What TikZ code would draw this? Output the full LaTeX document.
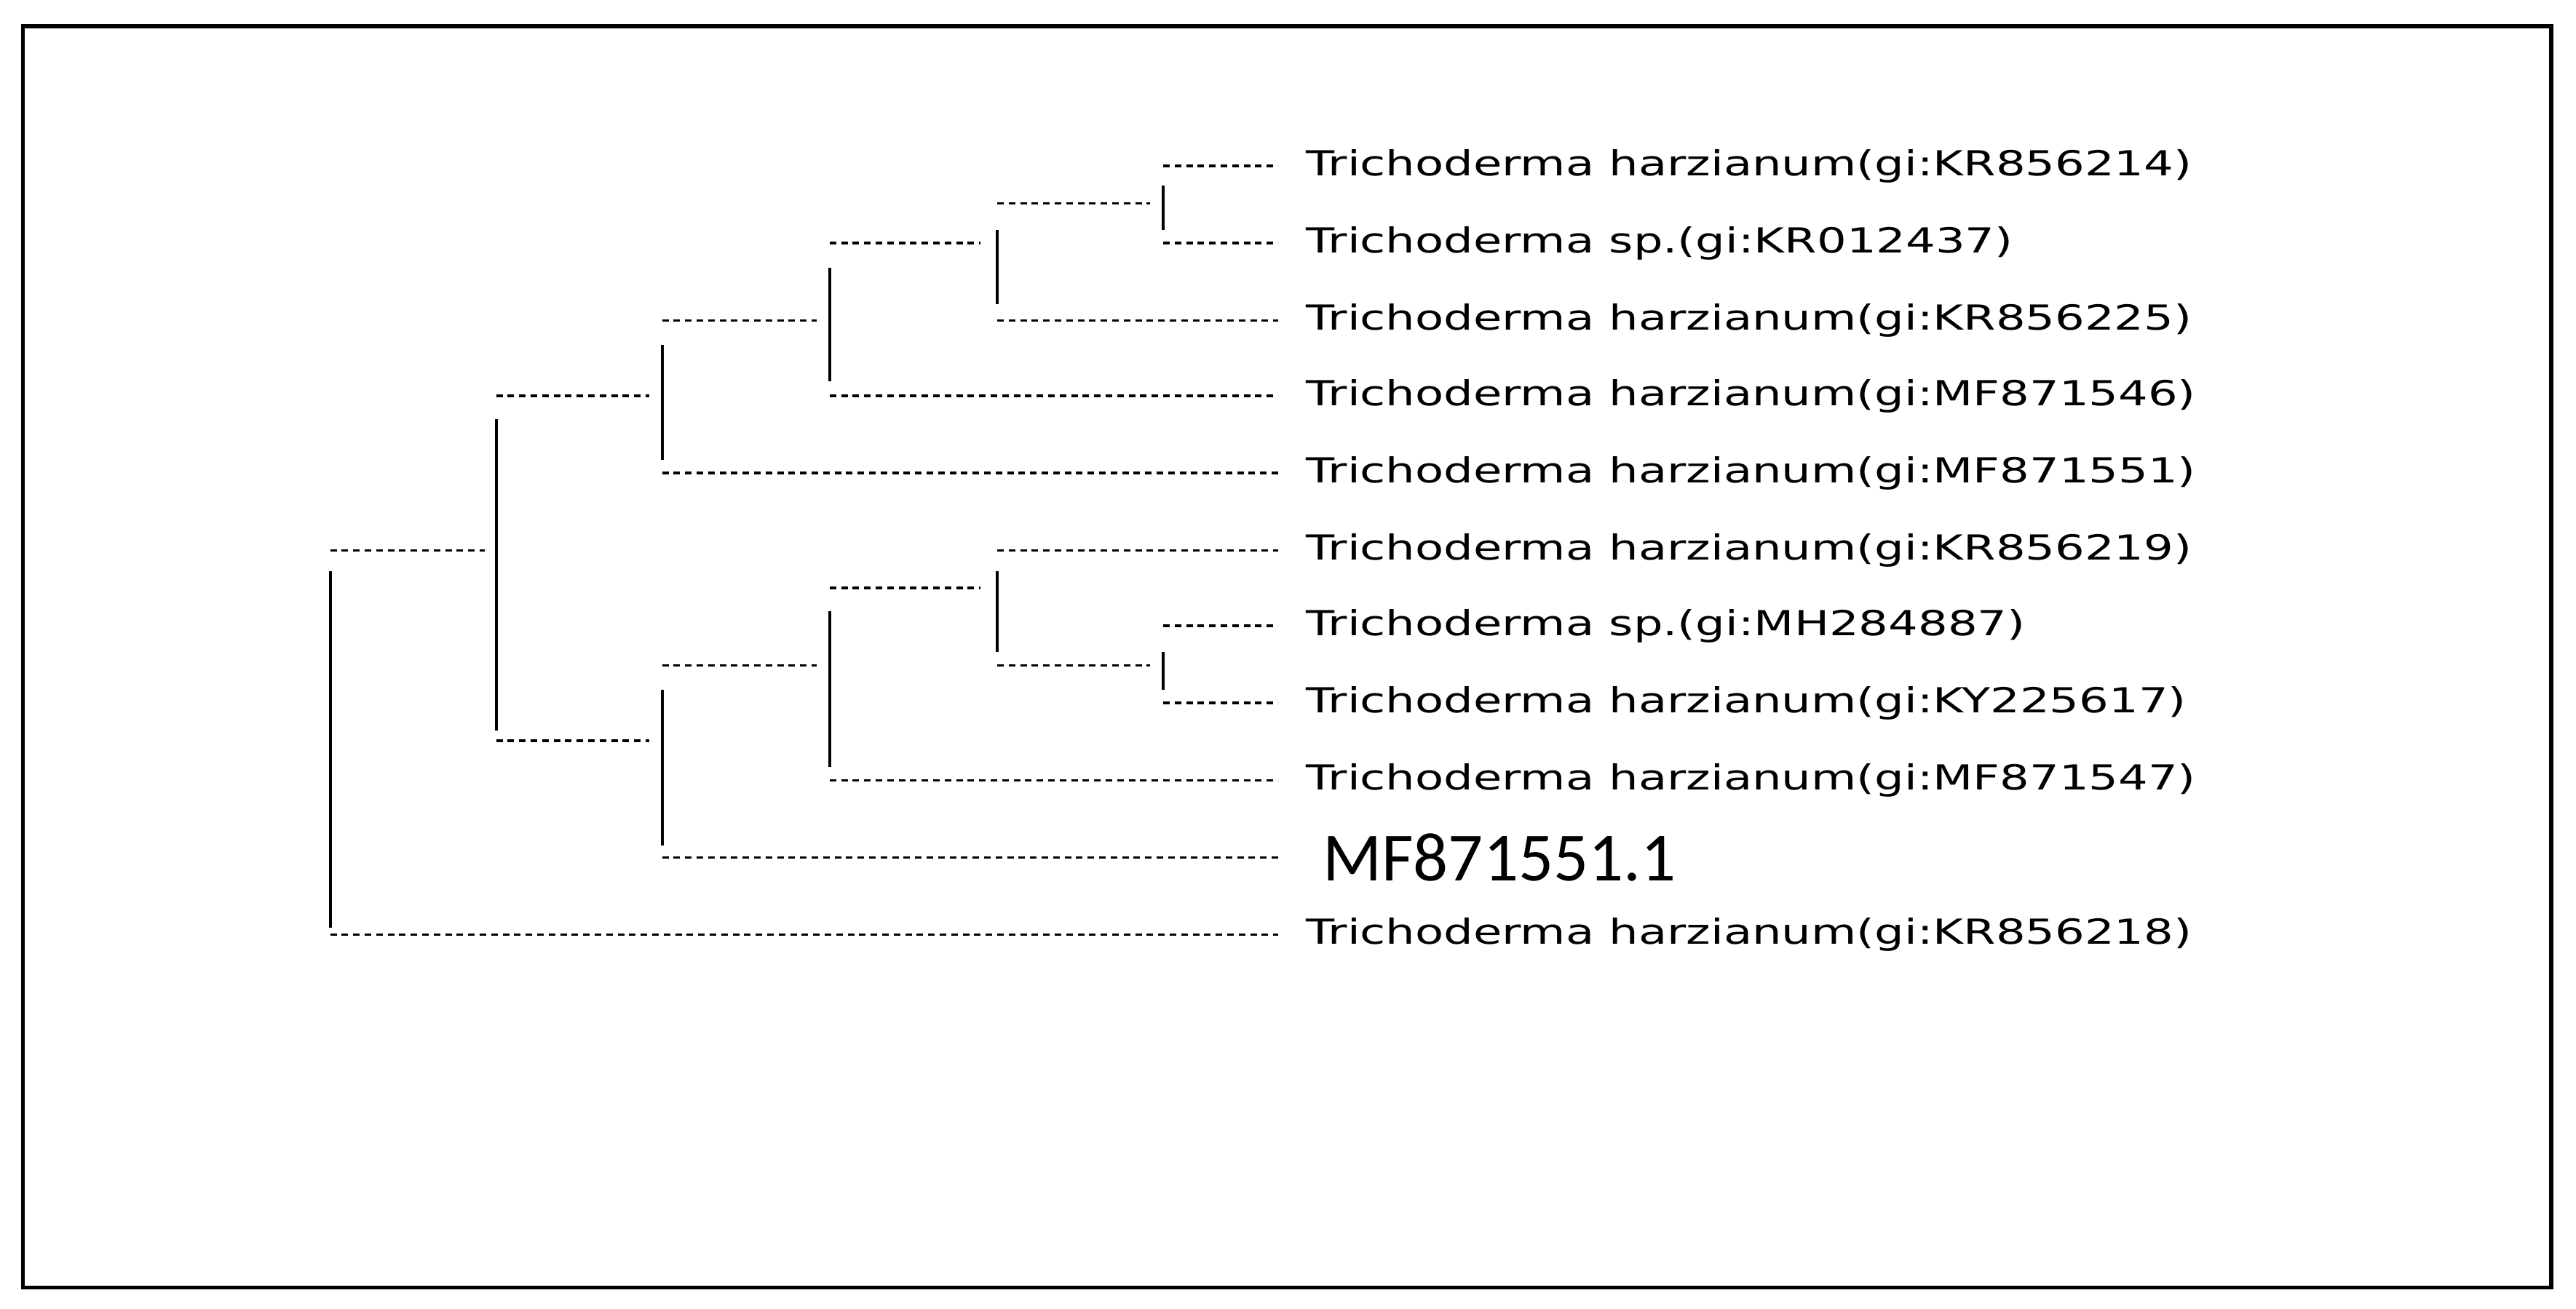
\documentclass[tikz,border=0pt]{standalone}
\usepackage{fontspec}
\setmainfont{DejaVu Sans}
\newfontfamily\calib{Carlito}
\begin{document}
\begin{tikzpicture}[x=1pt,y=-1pt,
  br/.style={line width=1.4pt,dash pattern=on 4pt off 3pt},
  vt/.style={line width=1.8pt},
  lab/.style={anchor=west,inner sep=0pt,font=\fontsize{21}{22}\selectfont,xscale=1.35}]
\useasboundingbox (0,0) rectangle (1568,797);
\draw[line width=2.5pt] (14,16) rectangle (1553,784);
% leaves
\foreach \n/\y/\t in {1/101/Trichoderma harzianum(gi:KR856214),2/148/Trichoderma sp.(gi:KR012437),3/195/Trichoderma harzianum(gi:KR856225),4/241/Trichoderma harzianum(gi:MF871546),5/288/Trichoderma harzianum(gi:MF871551),6/335/Trichoderma harzianum(gi:KR856219),7/381/Trichoderma sp.(gi:MH284887),8/428/Trichoderma harzianum(gi:KY225617),9/475/Trichoderma harzianum(gi:MF871547),11/569/Trichoderma harzianum(gi:KR856218)}
  {\coordinate (L\n) at (778,\y); \node[lab] (T\n) at (795,\y) {\t};}
\coordinate (L10) at (778,522);
\node[anchor=west,inner sep=0pt,font=\calib\fontsize{42}{44}\selectfont] (T10) at (805,522) {MF871551.1};
% leaf branches
\foreach \n/\x in {1/708,2/708,3/607,4/505,5/403,6/607,7/708,8/708,9/505,10/403,11/201}
  \draw[br] (\x,0 |- L\n) -- (L\n);
% internal horizontal branches
\foreach \a/\b/\y in {607/700/124,505/597/148,403/497/195,302/395/241,201/295/335,505/597/358,403/497/405,607/700/405,302/395/451}
  \draw[br] (\a,\y) -- (\b,\y);
% verticals
\foreach \x/\a/\b in {708/113/140,607/140/185,505/163/232,403/210/280,302/255/445,201/348/565,607/348/397,708/397/420,505/372/467,403/420/515}
  \draw[vt] (\x,\a) -- (\x,\b);
\end{tikzpicture}
\end{document}
